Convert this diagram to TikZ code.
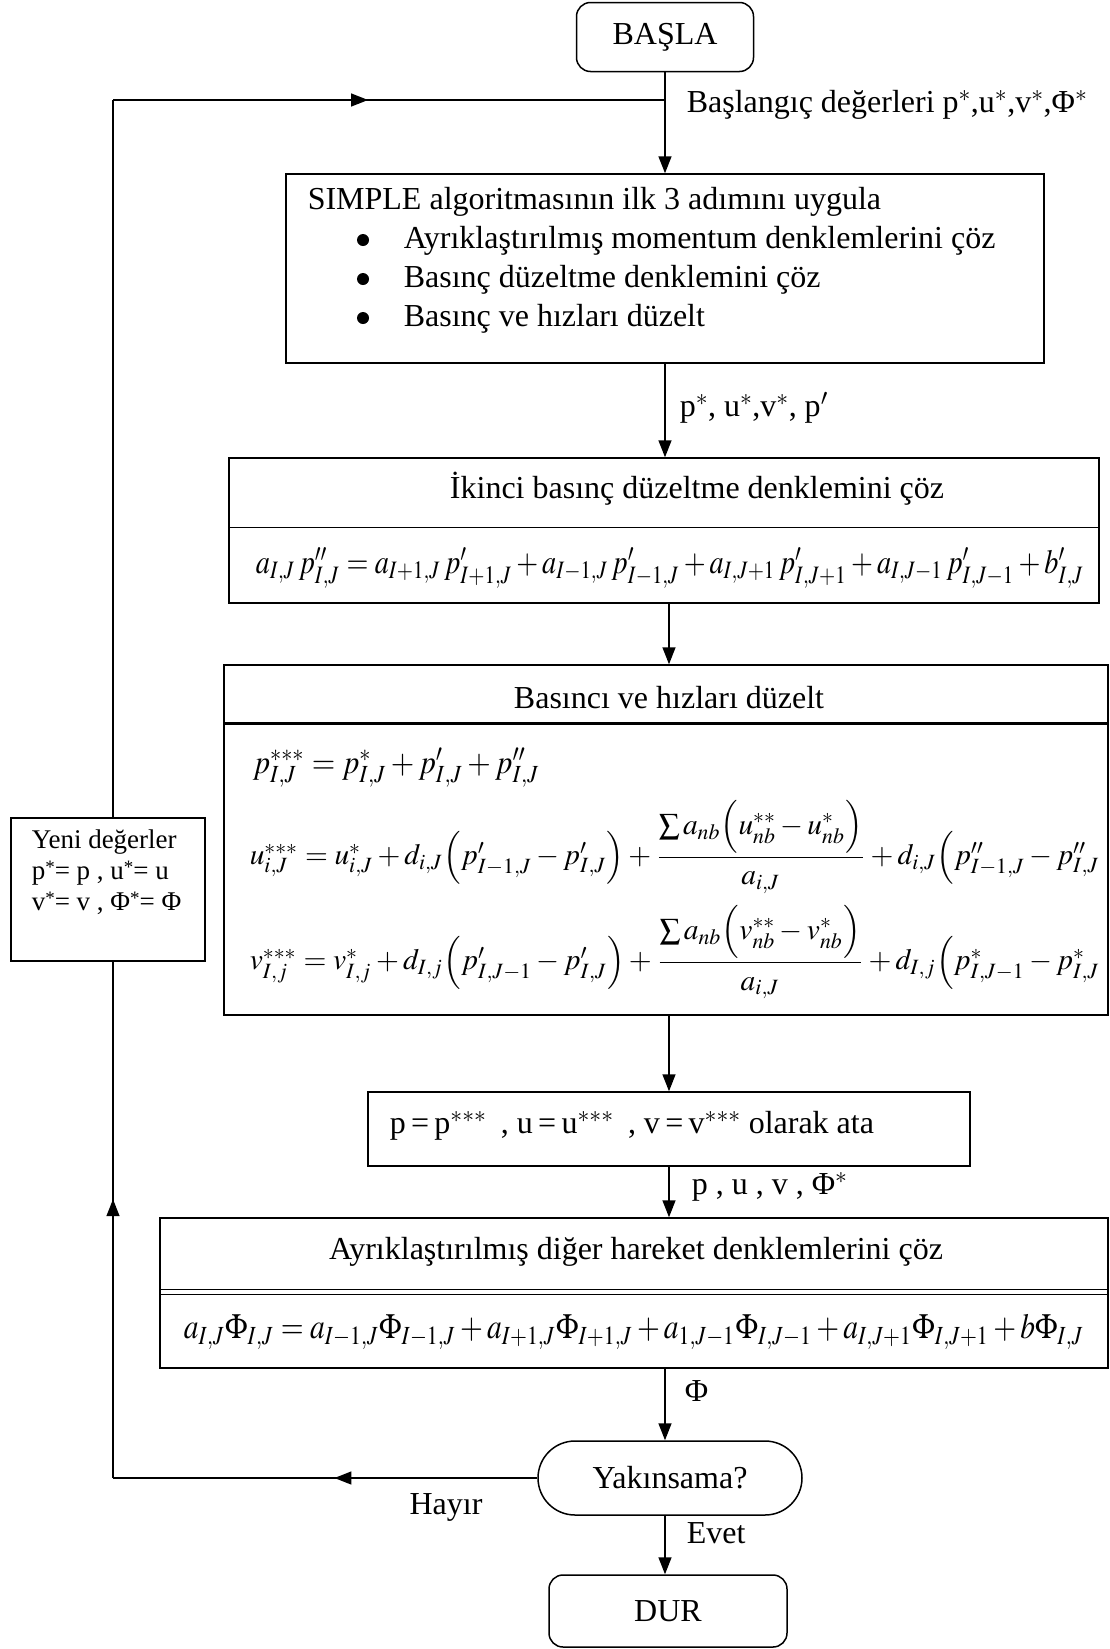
\documentclass[tikz,border=0pt]{standalone}
\usepackage{amsmath}
\usepackage{mathptmx}
\usepackage{graphicx}
\usepackage{fontspec}
\setmainfont{Liberation Serif}
\usetikzlibrary{arrows.meta,decorations.markings}
\newcommand{\starmark}{\raisebox{6pt}{\fontsize{19}{19}\selectfont *}}
\begin{document}
\begin{tikzpicture}[x=1pt,y=-1pt,line width=1.5pt,
  >={Triangle[length=17pt,width=13pt]},
  box/.style={draw, rectangle, inner sep=0pt, line width=1.5pt},
  lbl/.style={font=\fontsize{32}{38}\selectfont, inner sep=0pt},
  bul/.style={circle, fill, inner sep=0pt, minimum size=12pt},
  smalllbl/.style={font=\fontsize{27}{31}\selectfont, inner sep=0pt, text height=18pt, text depth=5pt},
  flow/.style={->},
  midarrow/.style={postaction={decorate}, decoration={markings, mark=at position #1 with {\arrow{>}}}}]
\useasboundingbox (0,0) rectangle (1110,1649);
\fill[white] (0,0) rectangle (1110,1649);

% ---------- boxes
\node[box, rounded corners=14pt, minimum width=177pt, minimum height=69pt, lbl] (start) at (665,37) {BAŞLA};
\node[box, minimum width=758pt, minimum height=189pt] (simple) at (665,268.5) {};
\node[box, minimum width=870pt, minimum height=145pt] (ikinci) at (664,530.5) {};
\node[box, minimum width=884pt, minimum height=350pt] (duzelt) at (666,840) {};
\node[box, minimum width=602pt, minimum height=74pt] (ata) at (669,1129) {};
\node[box, minimum width=948pt, minimum height=150pt] (diger) at (634,1293) {};
\node[box, rounded corners=37pt, minimum width=264pt, minimum height=74pt, lbl] (yak) at (670,1478) {Yakınsama?};
\node[box, rounded corners=14pt, minimum width=238pt, minimum height=72pt, lbl] (dur) at (668,1611) {DUR};
\node[box, minimum width=194pt, minimum height=143pt] (yeni) at (108,889.5) {};

% ---------- dividers
\draw ([yshift=-70pt]ikinci.north west) -- ([yshift=-70pt]ikinci.north east);
\draw[line width=2.6pt] ([yshift=-59pt]duzelt.north west) -- ([yshift=-59pt]duzelt.north east);
\draw ([yshift=-72pt]diger.north west) -- ([yshift=-72pt]diger.north east);
\draw ([yshift=-77pt]diger.north west) -- ([yshift=-77pt]diger.north east);

% ---------- texts in boxes
\node[lbl, anchor=west] (simpletitle) at (307,202) {SIMPLE algoritmasının ilk 3 adımını uygula};
\node[bul] (b1) at (363,240) {};
\node[bul] (b2) at (363,279) {};
\node[bul] (b3) at (363,318) {};
\node[lbl, anchor=west] (t1) at (403,241) {Ayrıklaştırılmış momentum denklemlerini çöz};
\node[lbl, anchor=west] (t2) at (403,280) {Basınç düzeltme denklemini çöz};
\node[lbl, anchor=west] (t3) at (403,319) {Basınç ve hızları düzelt};

\node[lbl] (ikincititle) at (697,489) {İkinci basınç düzeltme denklemini çöz};
\node[inner sep=0pt] (eqB) at (670,568) {\scalebox{1}[1.2]{\resizebox{828pt}{!}{$a_{I,J}\,p''_{I,J} = a_{I+1,J}\,p'_{I+1,J} + a_{I-1,J}\,p'_{I-1,J} + a_{I,J+1}\,p'_{I,J+1} + a_{I,J-1}\,p'_{I,J-1} + b'_{I,J}$}}};

\node[lbl] (duzelttitle) at (669,698) {Basıncı ve hızları düzelt};
\node[inner sep=0pt, anchor=west] (eqP) at (252,768) {\scalebox{1}[1.1]{\resizebox{287pt}{!}{$p^{***}_{I,J} = p^{*}_{I,J} + p'_{I,J} + p''_{I,J}$}}};
\node[inner sep=0pt, anchor=west] (eqU) at (249,847) {\resizebox{850pt}{!}{$u^{***}_{i,J} = u^{*}_{i,J} + d_{i,J}\Bigl(p'_{I-1,J} - p'_{I,J}\Bigr) + \dfrac{\textstyle\sum a_{nb}\Bigl(u^{**}_{nb} - u^{*}_{nb}\Bigr)}{a_{i,J}} + d_{i,J}\Bigl(p''_{I-1,J} - p''_{I,J}$}};
\node[inner sep=0pt, anchor=west] (eqV) at (249,952) {\resizebox{850pt}{!}{$v^{***}_{I,j} = v^{*}_{I,j} + d_{I,j}\Bigl(p'_{I,J-1} - p'_{I,J}\Bigr) + \dfrac{\textstyle\sum a_{nb}\Bigl(v^{**}_{nb} - v^{*}_{nb}\Bigr)}{a_{i,J}} + d_{I,j}\Bigl(p^{*}_{I,J-1} - p^{*}_{I,J}$}};

\node[lbl, anchor=west] (atatext) at (389,1126) {p\,=\,p$^{***}$\hspace{0.45em}, u\,=\,u$^{***}$\hspace{0.45em}, v\,=\,v$^{***}$ olarak ata};

\node[lbl] (digertitle) at (636,1252) {Ayrıklaştırılmış diğer hareket denklemlerini çöz};
\node[inner sep=0pt] (eqF) at (634,1332) {\scalebox{1}[1.2]{\resizebox{900pt}{!}{$a_{I,J}\Phi_{I,J} = a_{I-1,J}\Phi_{I-1,J} + a_{I+1,J}\Phi_{I+1,J} + a_{1,J-1}\Phi_{I,J-1} + a_{I,J+1}\Phi_{I,J+1} + b\Phi_{I,J}$}}};

\node[smalllbl, anchor=west] (yeni1) at (31,842) {Yeni değerler};
\node[smalllbl, anchor=west] (yeni2) at (31,873) {p\starmark= p , u\starmark= u};
\node[smalllbl, anchor=west] (yeni3) at (31,904) {v\starmark= v , Φ\starmark= Φ};

% ---------- connector coordinates
\coordinate (joinT) at (665,100);
\coordinate (cTL) at (113,100);
\coordinate (cBL) at (113,1478);

% ---------- connectors
\draw[flow] (start.south) -- (simple.north -| start.south);
\draw[flow] (simple.south -| start.south) -- (ikinci.north -| start.south);
\draw[flow] (ikinci.south -| ata.north) -- (duzelt.north -| ata.north);
\draw[flow] (duzelt.south -| ata.north) -- (ata.north);
\draw[flow] (ata.south) -- (diger.north -| ata.south);
\draw[flow] (diger.south -| start.south) -- (yak.north -| start.south);
\draw[flow] (yak.south -| start.south) -- (dur.north -| start.south);
\draw[midarrow=0.478] (yak.west) -- (cBL);
\draw[midarrow=0.54] (cBL) -- (yeni.south -| cBL);
\draw (yeni.north -| cTL) -- (cTL);
\draw[midarrow=0.462] (cTL) -- (joinT);

% ---------- connector labels
\node[lbl, anchor=west] (lab1) at (686,105) {Başlangıç değerleri p$^{*}$,u$^{*}$,v$^{*}$,Φ$^{*}$};
\node[lbl, anchor=west] (lab2) at (679,408) {p$^{*}$, u$^{*}$,v$^{*}$, p$'$};
\node[lbl, anchor=west] (lab3) at (691,1187) {p , u , v , Φ$^{*}$};
\node[lbl, anchor=west] (lab4) at (684,1391) {Φ};
\node[lbl] (hayir) at (446,1507) {Hayır};
\node[lbl, anchor=west] (evet) at (686,1533) {Evet};
\end{tikzpicture}
\end{document}
